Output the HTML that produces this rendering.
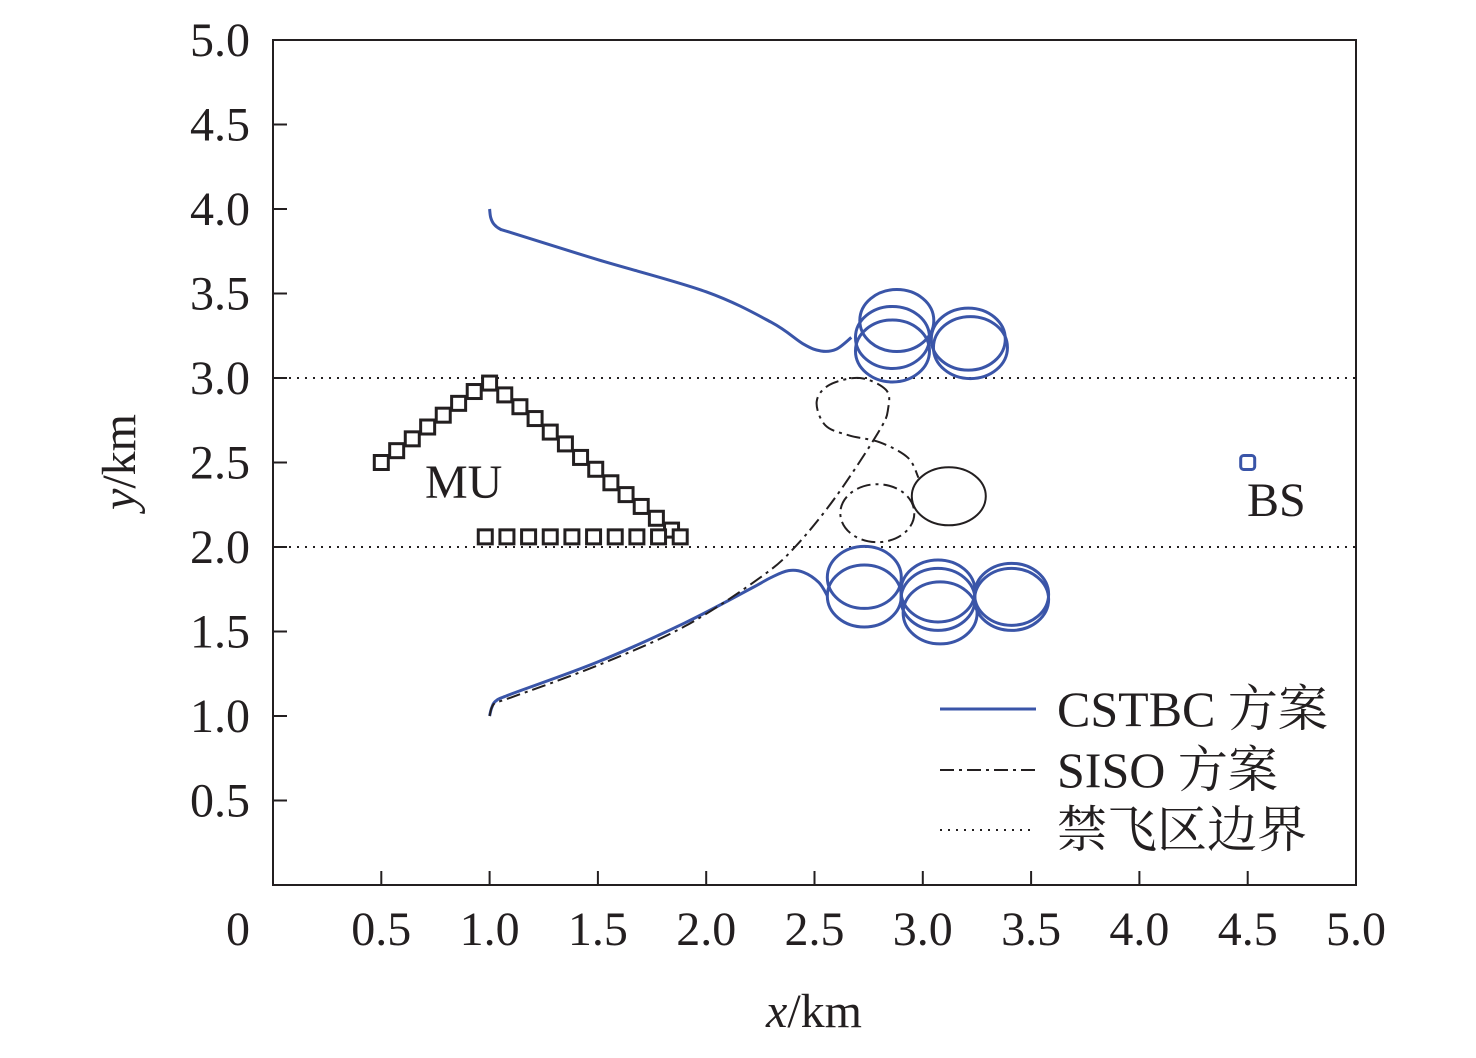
<!DOCTYPE html>
<html><head><meta charset="utf-8"><style>
body{margin:0;background:#fff}
svg text{font-family:"Liberation Serif","Noto Serif CJK SC",serif;fill:#231f20}
</style></head><body>
<svg id="chart" width="1476" height="1053" xmlns="http://www.w3.org/2000/svg">
<g id="g"></g>
</svg>
<script>
const xTicks=["0.5","1.0","1.5","2.0","2.5","3.0","3.5","4.0","4.5","5.0"];
const xTickVals=[0.5,1,1.5,2,2.5,3,3.5,4,4.5,5];
const yTickVals=[0.5,1,1.5,2,2.5,3,3.5,4,4.5,5];
const yTicks=["0.5","1.0","1.5","2.0","2.5","3.0","3.5","4.0","4.5","5.0"];
const nfzBounds=[2.0,3.0];
const muLeftX=[0.5,0.571,0.643,0.714,0.786,0.857,0.929,1.0];
const muLeftY=[2.5,2.57,2.64,2.71,2.78,2.85,2.92,2.97];
const muRightX=[1.07,1.14,1.21,1.28,1.35,1.42,1.49,1.56,1.63,1.70,1.77,1.84];
const muRightY=[2.90,2.83,2.76,2.68,2.61,2.53,2.46,2.38,2.31,2.24,2.17,2.10];
const muBottomX=[0.98,1.08,1.18,1.28,1.38,1.48,1.58,1.68,1.78,1.88];
const muBottomY=[2.06,2.06,2.06,2.06,2.06,2.06,2.06,2.06,2.06,2.06];
const bs=[4.5,2.5];
const cstbcUpX=[1.0,1.005,1.02,1.05,1.1,1.5,2.0,2.3,2.45,2.53,2.6,2.67];
const cstbcUpY=[4.0,3.95,3.91,3.88,3.86,3.70,3.51,3.33,3.20,3.16,3.17,3.24];
const cstbcLowX=[1.0,1.01,1.03,1.1,1.5,1.9,2.2,2.3,2.38,2.45,2.52,2.56];
const cstbcLowY=[1.0,1.05,1.09,1.13,1.32,1.55,1.75,1.82,1.86,1.85,1.79,1.71];
const cstbcLoopX=[2.88,2.86,2.86,3.21,3.22,2.73,2.73,3.07,3.07,3.08,3.41,3.41];
const cstbcLoopY=[3.34,3.24,3.16,3.23,3.18,1.82,1.71,1.74,1.69,1.61,1.69,1.72];
const sisoX=[1.0,1.01,1.03,1.1,1.5,1.9,2.25,2.41,2.60,2.80,2.84,2.83,2.71,2.57,2.51,2.55,2.66,2.80,2.93,2.98];
const sisoY=[1.0,1.05,1.08,1.11,1.30,1.53,1.82,2.0,2.30,2.69,2.82,2.93,3.0,2.96,2.86,2.72,2.66,2.62,2.53,2.41];
const sisoLoopX=[2.79];const sisoLoopY=[2.2];
const sisoSolidX=[3.12];const sisoSolidY=[2.3];
const x0=273,x1=1356,y0=885,y1=40;
const X=v=>x0+(x1-x0)*v/5, Y=v=>y0-(y0-y1)*v/5;
const g=document.getElementById('g');const NS="http://www.w3.org/2000/svg";
function mk(t,a,p){const e=document.createElementNS(NS,t);for(const k in a)e.setAttribute(k,a[k]);(p||g).appendChild(e);return e;}
let e=mk('rect',{x:x0,y:y1,width:x1-x0,height:y0-y1,fill:'none',stroke:'#231f20','stroke-width':2});


xTickVals.forEach((v,i)=>{
 let t=mk('line',{x1:X(v),x2:X(v),y1:y0,y2:y0-14,stroke:'#231f20','stroke-width':2});
 
 
 let l=mk('text',{x:X(v),y:945,'font-size':48,'text-anchor':'middle'});l.textContent=xTicks[i];
 
 
});
yTickVals.forEach((v,i)=>{
 let t=mk('line',{x1:x0,x2:x0+14,y1:Y(v),y2:Y(v),stroke:'#231f20','stroke-width':2});
 
 
 let l=mk('text',{x:250,y:Y(v)+16,'font-size':48,'text-anchor':'end'});l.textContent=yTicks[i];
 
 
});
e=mk('text',{x:238,y:945,'font-size':48,'text-anchor':'middle'});e.textContent='0';


e=mk('text',{x:814,y:1027,'font-size':48,'text-anchor':'middle'});e.innerHTML='<tspan font-style="italic">x</tspan>/km';


e=mk('text',{x:0,y:0,'font-size':48,'text-anchor':'middle',transform:'translate(135,462) rotate(-90)'});e.innerHTML='<tspan font-style="italic">y</tspan>/km';


nfzBounds.forEach(v=>{let l=mk('line',{x1:x0,x2:x1,y1:Y(v),y2:Y(v),stroke:'#231f20','stroke-width':2,'stroke-dasharray':'2 6'});
 
 });
function smooth(xs,ys){let p=xs.map((x,i)=>[X(x),Y(ys[i])]);let d='M'+p[0].join(',');
 for(let i=0;i<p.length-1;i++){const a=p[i-1]||p[i],b=p[i],c=p[i+1],dd=p[i+2]||c;
  d+=` C${b[0]+(c[0]-a[0])/6},${b[1]+(c[1]-a[1])/6} ${c[0]-(dd[0]-b[0])/6},${c[1]-(dd[1]-b[1])/6} ${c[0]},${c[1]}`;}return d;}
const blue='#3a55a8';
e=mk('path',{d:smooth(cstbcUpX,cstbcUpY),fill:'none',stroke:blue,'stroke-width':3});


e=mk('path',{d:smooth(cstbcLowX,cstbcLowY),fill:'none',stroke:blue,'stroke-width':3});


cstbcLoopX.forEach((x,i)=>{let c=mk('ellipse',{cx:X(x),cy:Y(cstbcLoopY[i]),rx:37,ry:31,fill:'none',stroke:blue,'stroke-width':3});
 
 });
e=mk('path',{d:smooth(sisoX,sisoY),fill:'none',stroke:'#231f20','stroke-width':2,'stroke-dasharray':'14 5 3 5'});


sisoLoopX.forEach((x,i)=>{let c=mk('ellipse',{cx:X(x),cy:Y(sisoLoopY[i]),rx:37,ry:29,fill:'none',stroke:'#231f20','stroke-width':2,'stroke-dasharray':'14 5 3 5'});
 
 });
sisoSolidX.forEach((x,i)=>{let c=mk('ellipse',{cx:X(x),cy:Y(sisoSolidY[i]),rx:37,ry:29,fill:'none',stroke:'#231f20','stroke-width':2});
 
 });
function sq(xs,ys){xs.forEach((x,i)=>{let s=mk('rect',{x:X(x)-7,y:Y(ys[i])-7,width:14,height:14,fill:'#fff',stroke:'#231f20','stroke-width':3});
 
 });}
sq(muLeftX,muLeftY);sq(muRightX,muRightY);sq(muBottomX,muBottomY);
e=mk('rect',{x:X(bs[0])-7,y:Y(bs[1])-7,width:14,height:14,rx:3,fill:'none',stroke:blue,'stroke-width':3});


e=mk('text',{x:425,y:498,'font-size':48});e.textContent='MU';


e=mk('text',{x:1247,y:516,'font-size':48});e.textContent='BS';


const legNames=['CSTBC 方案','SISO 方案','禁飞区边界'];
const legY=[709,770,830];
const legStyle=[{stroke:blue,'stroke-width':3},{stroke:'#231f20','stroke-width':2,'stroke-dasharray':'14 5 3 5'},{stroke:'#231f20','stroke-width':2,'stroke-dasharray':'2 6'}];
legNames.forEach((n,i)=>{let l=mk('line',Object.assign({x1:940,x2:1036,y1:legY[i],y2:legY[i]},legStyle[i]));
 
 
 let t=mk('text',{x:1057,y:legY[i]+17,'font-size':50});t.textContent=n;
 
 });
</script>
</body></html>
